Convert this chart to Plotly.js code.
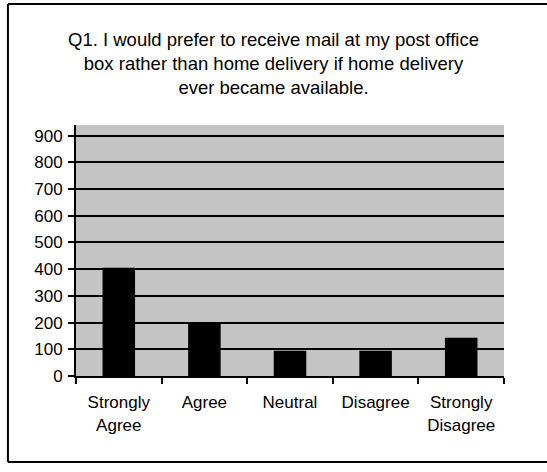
<!DOCTYPE html>
<html>
<head>
<meta charset="utf-8">
<script src="https://cdn.plot.ly/plotly-3.0.1.min.js"></script>
<style>html,body{margin:0;padding:0;background:#fff;}#chart{width:547px;height:472px;}</style>
</head>
<body>
<div id="chart"></div>
<script>
var categories = ["Strongly<br>Agree", "Agree", "Neutral", "Disagree", "Strongly<br>Disagree"];
var responses = [405, 200, 95, 95, 143];
var yTickValues = [0, 100, 200, 300, 400, 500, 600, 700, 800, 900];
var titleText = "Q1. I would prefer to receive mail at my post office<br>box rather than home delivery if home delivery<br>ever became available.";

var font = "'Liberation Sans', Arial, sans-serif";

var trace = {
  type: "bar",
  x: categories,
  y: responses,
  marker: {color: "#000000", line: {width: 0}},
  hoverinfo: "none"
};

var layout = {
  width: 547,
  height: 472,
  margin: {l: 76, r: 43, t: 125, b: 96},
  paper_bgcolor: "#ffffff",
  plot_bgcolor: "#c4c4c4",
  showlegend: false,
  bargap: 0.62,
  font: {family: font, color: "#000", size: 16},
  title: {
    text: titleText,
    font: {family: font, size: 18.5, color: "#000"},
    x: 0.5, xanchor: "center",
    y: 0.903, yanchor: "top", yref: "container"
  },
  xaxis: {
    type: "category",
    showgrid: false,
    showline: true, linecolor: "#000", linewidth: 2,
    ticks: "outside", tickson: "boundaries", ticklen: 6, tickwidth: 2, tickcolor: "#000",
    ticklabelstandoff: 10,
    tickfont: {family: font, size: 17, color: "#000"},
    fixedrange: true
  },
  yaxis: {
    range: [0, 940],
    tickvals: yTickValues,
    showgrid: true, gridcolor: "#000", gridwidth: 2,
    zeroline: false,
    showline: true, linecolor: "#000", linewidth: 2,
    ticks: "outside", ticklen: 6, tickwidth: 2, tickcolor: "#000",
    ticklabelstandoff: 2,
    tickfont: {family: font, size: 17, color: "#000"},
    fixedrange: true
  },
  shapes: [
    {type: "line", xref: "paper", yref: "paper", x0: -0.159, x1: 1.12, y0: 1.482, y1: 1.482, line: {color: "#000", width: 2}},
    {type: "line", xref: "paper", yref: "paper", x0: -0.159, x1: -0.159, y0: 1.482, y1: -0.343, line: {color: "#000", width: 2}},
    {type: "line", xref: "paper", yref: "paper", x0: -0.159, x1: 1.12, y0: -0.343, y1: -0.343, line: {color: "#000", width: 2}}
  ]
};

Plotly.newPlot("chart", [trace], layout, {displayModeBar: false, staticPlot: true});
</script>
</body>
</html>
